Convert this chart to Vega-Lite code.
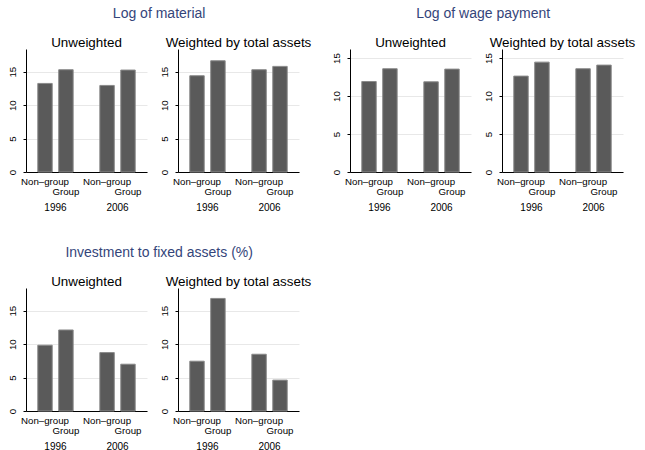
{
  "$schema": "https://vega.github.io/schema/vega-lite/v6.json",
  "background": "white",
  "padding": {"left": 7, "top": 6, "right": 2, "bottom": 5},
  "data": {
    "values": [
      {"measure": "material", "weighting": "Unweighted", "year": "1996", "group": "Non–group", "value": 13.25},
      {"measure": "material", "weighting": "Unweighted", "year": "1996", "group": "Group", "value": 15.3},
      {"measure": "material", "weighting": "Unweighted", "year": "2006", "group": "Non–group", "value": 12.95},
      {"measure": "material", "weighting": "Unweighted", "year": "2006", "group": "Group", "value": 15.25},
      {"measure": "material", "weighting": "Weighted by total assets", "year": "1996", "group": "Non–group", "value": 14.4},
      {"measure": "material", "weighting": "Weighted by total assets", "year": "1996", "group": "Group", "value": 16.64},
      {"measure": "material", "weighting": "Weighted by total assets", "year": "2006", "group": "Non–group", "value": 15.3},
      {"measure": "material", "weighting": "Weighted by total assets", "year": "2006", "group": "Group", "value": 15.8},
      {"measure": "wage", "weighting": "Unweighted", "year": "1996", "group": "Non–group", "value": 11.92},
      {"measure": "wage", "weighting": "Unweighted", "year": "1996", "group": "Group", "value": 13.6},
      {"measure": "wage", "weighting": "Unweighted", "year": "2006", "group": "Non–group", "value": 11.88},
      {"measure": "wage", "weighting": "Unweighted", "year": "2006", "group": "Group", "value": 13.55},
      {"measure": "wage", "weighting": "Weighted by total assets", "year": "1996", "group": "Non–group", "value": 12.63},
      {"measure": "wage", "weighting": "Weighted by total assets", "year": "1996", "group": "Group", "value": 14.47},
      {"measure": "wage", "weighting": "Weighted by total assets", "year": "2006", "group": "Non–group", "value": 13.6},
      {"measure": "wage", "weighting": "Weighted by total assets", "year": "2006", "group": "Group", "value": 14.08},
      {"measure": "investment", "weighting": "Unweighted", "year": "1996", "group": "Non–group", "value": 9.84},
      {"measure": "investment", "weighting": "Unweighted", "year": "1996", "group": "Group", "value": 12.12},
      {"measure": "investment", "weighting": "Unweighted", "year": "2006", "group": "Non–group", "value": 8.74},
      {"measure": "investment", "weighting": "Unweighted", "year": "2006", "group": "Group", "value": 7.0},
      {"measure": "investment", "weighting": "Weighted by total assets", "year": "1996", "group": "Non–group", "value": 7.45},
      {"measure": "investment", "weighting": "Weighted by total assets", "year": "1996", "group": "Group", "value": 16.84},
      {"measure": "investment", "weighting": "Weighted by total assets", "year": "2006", "group": "Non–group", "value": 8.49},
      {"measure": "investment", "weighting": "Weighted by total assets", "year": "2006", "group": "Group", "value": 4.62}
    ]
  },
  "spacing": 33,
  "vconcat": [
    {
      "spacing": 19,
      "hconcat": [
        {
          "title": {"text": "Log of material"},
          "transform": [{"filter": "datum.measure === 'material'"}],
          "facet": {"column": {"field": "weighting", "type": "nominal", "header": {"title": null, "labelFontWeight": "normal", "labelFontSize": 13.4, "labelColor": "#000"}}},
          "spacing": 12,
          "resolve": {"axis": {"x": "independent", "y": "independent"}},
          "spec": {
            "width": 121,
            "height": 123,
            "layer": [
              {
                "mark": {"type": "bar", "fill": "#5a5a5a", "stroke": "#8a8a8a", "strokeWidth": 1},
                "encoding": {
                  "x": {"field": "year", "type": "nominal", "scale": {"paddingInner": 0.43, "paddingOuter": 0.19}},
                  "xOffset": {"field": "group", "type": "nominal", "sort": ["Non–group", "Group"], "scale": {"paddingInner": 0.31, "paddingOuter": 0}},
                  "y": {"field": "value", "type": "quantitative", "scale": {"domain": [0, 18.4], "nice": false}}
                }
              },
              {
                "transform": [{"filter": "datum.group === 'Non–group'"}],
                "mark": {"type": "text", "dy": 9.5},
                "encoding": {
                  "x": {"field": "year", "type": "nominal"},
                  "xOffset": {"field": "group", "type": "nominal", "sort": ["Non–group", "Group"]},
                  "y": {"datum": 0},
                  "text": {"field": "group"}
                }
              },
              {
                "transform": [{"filter": "datum.group === 'Group'"}],
                "mark": {"type": "text", "dy": 19.5},
                "encoding": {
                  "x": {"field": "year", "type": "nominal"},
                  "xOffset": {"field": "group", "type": "nominal", "sort": ["Non–group", "Group"]},
                  "y": {"datum": 0},
                  "text": {"field": "group"}
                }
              }
            ]
          }
        },
        {
          "title": {"text": "Log of wage payment"},
          "transform": [{"filter": "datum.measure === 'wage'"}],
          "facet": {"column": {"field": "weighting", "type": "nominal", "header": {"title": null, "labelFontWeight": "normal", "labelFontSize": 13.4, "labelColor": "#000"}}},
          "spacing": 12,
          "resolve": {"axis": {"x": "independent", "y": "independent"}},
          "spec": {
            "width": 121,
            "height": 123,
            "layer": [
              {
                "mark": {"type": "bar", "fill": "#5a5a5a", "stroke": "#8a8a8a", "strokeWidth": 1},
                "encoding": {
                  "x": {"field": "year", "type": "nominal", "scale": {"paddingInner": 0.43, "paddingOuter": 0.19}},
                  "xOffset": {"field": "group", "type": "nominal", "sort": ["Non–group", "Group"], "scale": {"paddingInner": 0.31, "paddingOuter": 0}},
                  "y": {"field": "value", "type": "quantitative", "scale": {"domain": [0, 16.2], "nice": false}}
                }
              },
              {
                "transform": [{"filter": "datum.group === 'Non–group'"}],
                "mark": {"type": "text", "dy": 9.5},
                "encoding": {
                  "x": {"field": "year", "type": "nominal"},
                  "xOffset": {"field": "group", "type": "nominal", "sort": ["Non–group", "Group"]},
                  "y": {"datum": 0},
                  "text": {"field": "group"}
                }
              },
              {
                "transform": [{"filter": "datum.group === 'Group'"}],
                "mark": {"type": "text", "dy": 19.5},
                "encoding": {
                  "x": {"field": "year", "type": "nominal"},
                  "xOffset": {"field": "group", "type": "nominal", "sort": ["Non–group", "Group"]},
                  "y": {"datum": 0},
                  "text": {"field": "group"}
                }
              }
            ]
          }
        }
      ]
    },
    {
      "title": {"text": "Investment to fixed assets (%)"},
      "transform": [{"filter": "datum.measure === 'investment'"}],
      "facet": {"column": {"field": "weighting", "type": "nominal", "header": {"title": null, "labelFontWeight": "normal", "labelFontSize": 13.4, "labelColor": "#000"}}},
      "spacing": 12,
      "resolve": {"axis": {"x": "independent", "y": "independent"}},
      "spec": {
        "width": 121,
        "height": 123,
        "layer": [
          {
            "mark": {"type": "bar", "fill": "#5a5a5a", "stroke": "#8a8a8a", "strokeWidth": 1},
            "encoding": {
              "x": {"field": "year", "type": "nominal", "scale": {"paddingInner": 0.43, "paddingOuter": 0.19}},
              "xOffset": {"field": "group", "type": "nominal", "sort": ["Non–group", "Group"], "scale": {"paddingInner": 0.31, "paddingOuter": 0}},
              "y": {"field": "value", "type": "quantitative", "scale": {"domain": [0, 18.4], "nice": false}}
            }
          },
          {
            "transform": [{"filter": "datum.group === 'Non–group'"}],
            "mark": {"type": "text", "dy": 9.5},
            "encoding": {
              "x": {"field": "year", "type": "nominal"},
              "xOffset": {"field": "group", "type": "nominal", "sort": ["Non–group", "Group"]},
              "y": {"datum": 0},
              "text": {"field": "group"}
            }
          },
          {
            "transform": [{"filter": "datum.group === 'Group'"}],
            "mark": {"type": "text", "dy": 19.5},
            "encoding": {
              "x": {"field": "year", "type": "nominal"},
              "xOffset": {"field": "group", "type": "nominal", "sort": ["Non–group", "Group"]},
              "y": {"datum": 0},
              "text": {"field": "group"}
            }
          }
        ]
      }
    }
  ],
  "config": {
    "font": "Liberation Sans",
    "view": {"stroke": null},
    "title": {"fontSize": 14, "fontWeight": "normal", "color": "#34457a", "anchor": "middle", "offset": 15},
    "header": {"labelFontSize": 13.4, "labelFontWeight": "normal", "labelColor": "#000", "labelPadding": 0, "labelFont": "Liberation Sans"},
    "text": {"fontSize": 9.7, "color": "#000", "baseline": "middle"},
    "axisX": {
      "title": null,
      "labelAngle": 0,
      "ticks": false,
      "labelPadding": 30,
      "labelFontSize": 10,
      "labelColor": "#000",
      "domainColor": "#000",
      "grid": false
    },
    "axisY": {
      "title": null,
      "values": [0, 5, 10, 15],
      "labelAngle": -90,
      "labelAlign": "center",
      "labelBaseline": "bottom",
      "labelFontSize": 9.7,
      "labelColor": "#000",
      "tickSize": 3,
      "tickColor": "#000",
      "labelPadding": 6,
      "grid": true,
      "gridColor": "#e8e8e8",
      "domainColor": "#000"
    }
  }
}
